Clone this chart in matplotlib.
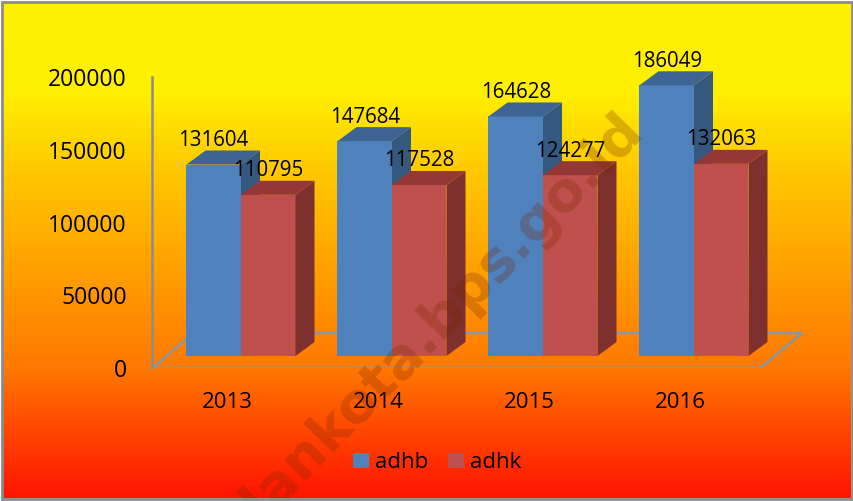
import numpy as np
import matplotlib
matplotlib.use('Agg')
import matplotlib.pyplot as plt
from matplotlib.patches import Polygon, Patch, Rectangle

years = ['2013', '2014', '2015', '2016']
adhb = [131604, 147684, 164628, 186049]
adhk = [110795, 117528, 124277, 132063]
series_names = ['adhb', 'adhk']
y_ticks = [0, 50000, 100000, 150000, 200000]

plt.rcParams['font.family'] = ['Open Sans', 'DejaVu Sans']

W, H = 854, 501
fig = plt.figure(figsize=(W / 100, H / 100), dpi=100)

# background gradient (yellow -> orange -> red)
bg = fig.add_axes([3 / W, 3 / H, (W - 6) / W, (H - 6) / H])
stops_y = [0, 90, 170, 270, 370, 420, 500]
stops_rgb = np.array([[255, 242, 0], [255, 240, 0], [255, 200, 0], [255, 160, 0],
                      [255, 120, 0], [255, 80, 0], [255, 20, 0]]) / 255
rows = np.arange(H)
grad = np.stack([np.interp(rows, stops_y, stops_rgb[:, c]) for c in range(3)], axis=1)
bg.imshow(grad[:, None, :], aspect='auto', extent=[0, 1, 0, 1])
bg.set_axis_off()

# main axes, mapped to the plot area of the original
px_x = 1 / 151            # x units per pixel (one category = 151 px)
px_y = 200000 / 291       # value units per pixel
ax = fig.add_axes([152 / W, (H - 368) / H, (805 - 152) / W, 308 / H])
ax.set_xlim(-89 * px_x, 564 * px_x)
ax.set_ylim(0, 308 * px_y)
ax.patch.set_visible(False)

bar_w = 54.5 * px_x
depth_x, depth_y = 19 * px_x, 14 * px_y
base = 12 * px_y
floor_dx, floor_dy = 42 * px_x, 35 * px_y

# floor
fx0, fx1 = -89 * px_x, 519 * px_x
ax.add_patch(Polygon([(fx0, 0), (fx1, 0), (fx1 + floor_dx, floor_dy), (fx0 + floor_dx, floor_dy)],
                     closed=True, facecolor='none', edgecolor='#8696a6', lw=1.8, zorder=1))

colors = {'adhb': ('#4f81bd', '#3d6493', '#35587f'),
          'adhk': ('#c0504d', '#953735', '#7d302e')}

x = np.arange(len(years))
for name, vals, off in [('adhb', adhb, -bar_w / 2), ('adhk', adhk, bar_w / 2)]:
    front, top, side = colors[name]
    z = 2 if name == 'adhb' else 3
    xc = x + off
    ax.bar(xc, vals, width=bar_w, bottom=base, color=front, zorder=z)
    for xi, v in zip(xc, vals):
        x0, x1 = xi - bar_w / 2, xi + bar_w / 2
        t = base + v
        ax.add_patch(Polygon([(x1, base), (x1 + depth_x, base + depth_y),
                              (x1 + depth_x, t + depth_y), (x1, t)],
                             closed=True, facecolor=side, edgecolor='none', zorder=z))
        ax.add_patch(Polygon([(x0, t), (x1, t), (x1 + depth_x, t + depth_y), (x0 + depth_x, t + depth_y)],
                             closed=True, facecolor=top, edgecolor='none', zorder=z))
        ax.annotate(str(v), (xi, t + depth_y), xytext=(0, 3.3), textcoords='offset points',
                    ha='center', va='baseline', fontsize=14.8, color='black', zorder=6)

# axes styling
for s in ['top', 'right', 'bottom']:
    ax.spines[s].set_visible(False)
ax.spines['left'].set_bounds(0, 200000)
ax.spines['left'].set_color('#8c8c8c')
ax.spines['left'].set_linewidth(1.8)
ax.set_yticks(y_ticks)
ax.set_yticklabels([str(t) for t in y_ticks], fontsize=16.5)
ax.tick_params(axis='y', length=0, pad=18)
ax.set_xticks(x - 14 * px_x)
ax.set_xticklabels(years, fontsize=16)
ax.tick_params(axis='x', length=0, pad=17)

handles = [Patch(facecolor=colors[n][0]) for n in series_names]
fig.legend(handles, series_names, loc='center', bbox_to_anchor=(437.5 / W, 1 - 463 / H),
           ncol=2, frameon=False, fontsize=16, handlelength=0.68, handleheight=0.68,
           handletextpad=0.3, columnspacing=0.9)

# watermark
fig.text(645 / W, 1 - 132 / H, 'medankota.bps.go.id', rotation=45.5, rotation_mode='anchor',
         ha='right', va='baseline', fontsize=40, fontweight='bold', color='#782800',
         alpha=0.27, family='DejaVu Sans', zorder=8)

# outer border
fig.patches.append(Rectangle((2 / W, 2 / H), (W - 4) / W, (H - 4) / H, transform=fig.transFigure,
                             facecolor='none', edgecolor='#8c8c8c', lw=2, zorder=10))

fig.savefig('out.png', dpi=100)
